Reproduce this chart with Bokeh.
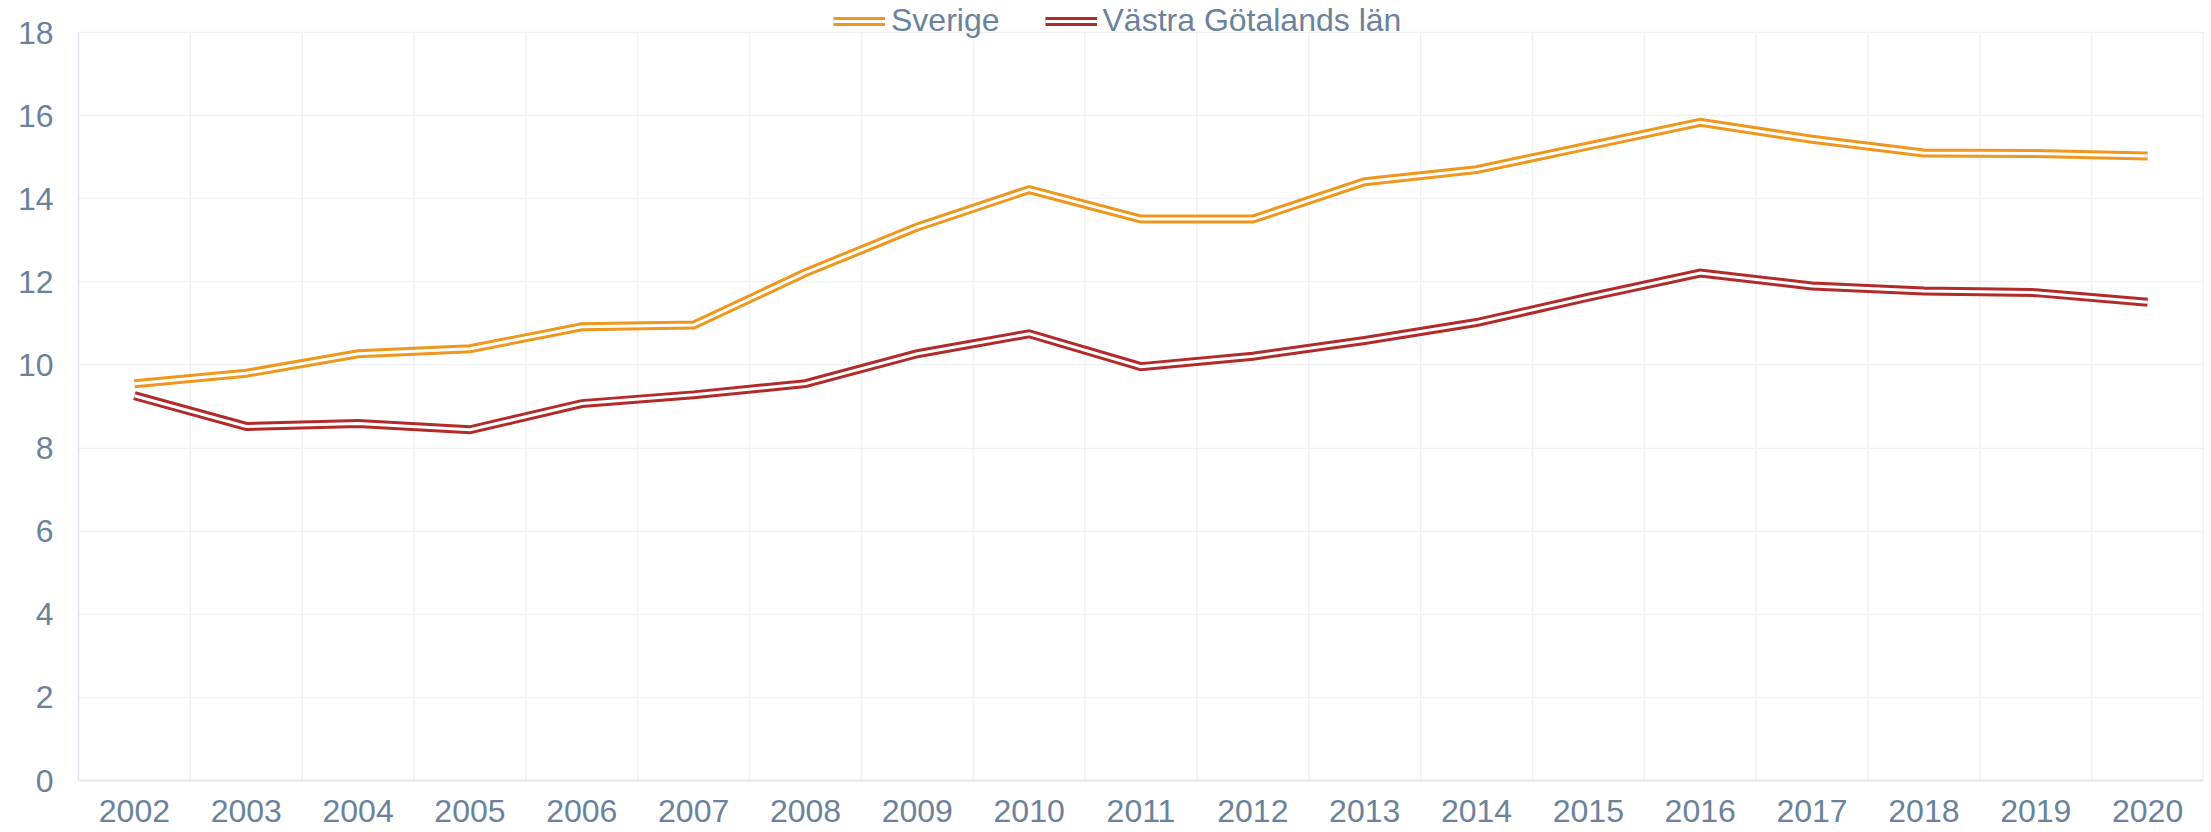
from bokeh.plotting import figure
from bokeh.models import (ColumnDataSource, FixedTicker, Legend, LegendItem, Range1d)
from bokeh.embed import file_html
from bokeh.resources import INLINE

years = ["2002", "2003", "2004", "2005", "2006", "2007", "2008", "2009", "2010", "2011",
         "2012", "2013", "2014", "2015", "2016", "2017", "2018", "2019", "2020"]
sverige = [9.55, 9.80, 10.27, 10.39, 10.92, 10.96, 12.22, 13.32, 14.22, 13.51,
           13.51, 14.41, 14.70, 15.27, 15.84, 15.43, 15.10, 15.09, 15.03]
vastra_gotaland = [9.26, 8.52, 8.59, 8.44, 9.07, 9.28, 9.55, 10.27, 10.75, 9.96,
                   10.21, 10.59, 11.02, 11.63, 12.21, 11.90, 11.78, 11.74, 11.51]
series_names = ["Sverige", "Västra Götalands län"]
y_ticks = [0, 2, 4, 6, 8, 10, 12, 14, 16, 18]

FONT = "Liberation Sans"
TXT = "#6B829C"
GRID = "#EEF1F4"
EDGE = "#E3E8EE"
ORANGE = "#EF961C"
RED = "#B22A29"

W, H = 2208, 830
LEFT, RIGHT, BOTTOM = 78, 5, 50
PLOT_TOP = 32                      # where the value 18 sits (px from top)
frame_h = H - BOTTOM               # frame reaches the top edge so the legend is not clipped
y_max = max(y_ticks)
y_end = y_max * frame_h / (frame_h - PLOT_TOP)

idx = list(range(len(years)))
src = ColumnDataSource(dict(x=idx, sv=sverige, vg=vastra_gotaland))

p = figure(width=W, height=H, output_backend="svg", toolbar_location=None,
           x_range=Range1d(-0.5, len(years) - 0.5), y_range=Range1d(0, y_end),
           min_border_left=LEFT, min_border_right=RIGHT, min_border_top=0,
           min_border_bottom=BOTTOM)
p.background_fill_color = "white"
p.border_fill_color = "white"
p.outline_line_color = None

# axes
p.xaxis.ticker = FixedTicker(ticks=idx)
p.xaxis.major_label_overrides = {i: y for i, y in zip(idx, years)}
p.yaxis.ticker = FixedTicker(ticks=y_ticks)
p.yaxis.bounds = (0, y_max)
for ax in (p.xaxis[0], p.yaxis[0]):
    ax.major_tick_line_color = None
    ax.minor_tick_line_color = None
    ax.major_label_text_font = FONT
    ax.major_label_text_font_size = "32px"
    ax.major_label_text_color = TXT
p.xaxis.axis_line_color = "#E3E6EA"
p.xaxis.axis_line_width = 2
p.yaxis.axis_line_color = "#DCE3EA"
p.yaxis.axis_line_width = 1.5
p.xaxis.major_label_standoff = 13
p.yaxis.major_label_standoff = 19

# grids: horizontal via grid, vertical (between categories) as bounded segments
p.xgrid.visible = False
p.ygrid.ticker = FixedTicker(ticks=y_ticks[1:])
p.ygrid.grid_line_color = GRID
p.ygrid.grid_line_width = 1.5
bx = [i + 0.5 for i in idx]
p.segment(x0=bx, x1=bx, y0=[0] * len(bx), y1=[y_max] * len(bx),
          line_color=[GRID] * (len(bx) - 1) + [EDGE], line_width=1.5)

# double lines (compound line style)
r1 = p.line("x", "sv", source=src, line_color=ORANGE, line_width=9, line_join="miter")
r1w = p.line("x", "sv", source=src, line_color="white", line_width=3, line_join="miter")
r2 = p.line("x", "vg", source=src, line_color=RED, line_width=9, line_join="miter")
r2w = p.line("x", "vg", source=src, line_color="white", line_width=3, line_join="miter")

legend = Legend(items=[LegendItem(label=series_names[0], renderers=[r1, r1w]),
                       LegendItem(label=series_names[1], renderers=[r2, r2w])],
                orientation="horizontal", location=(755, 741))
legend.label_text_font = FONT
legend.label_text_font_size = "32px"
legend.label_text_color = TXT
legend.glyph_width = 52
legend.glyph_height = 20
legend.label_standoff = 6
legend.spacing = 45
legend.padding = 0
legend.margin = 0
legend.border_line_color = None
legend.background_fill_alpha = 0
p.add_layout(legend)

open("out.html", "w").write(file_html(p, INLINE))
